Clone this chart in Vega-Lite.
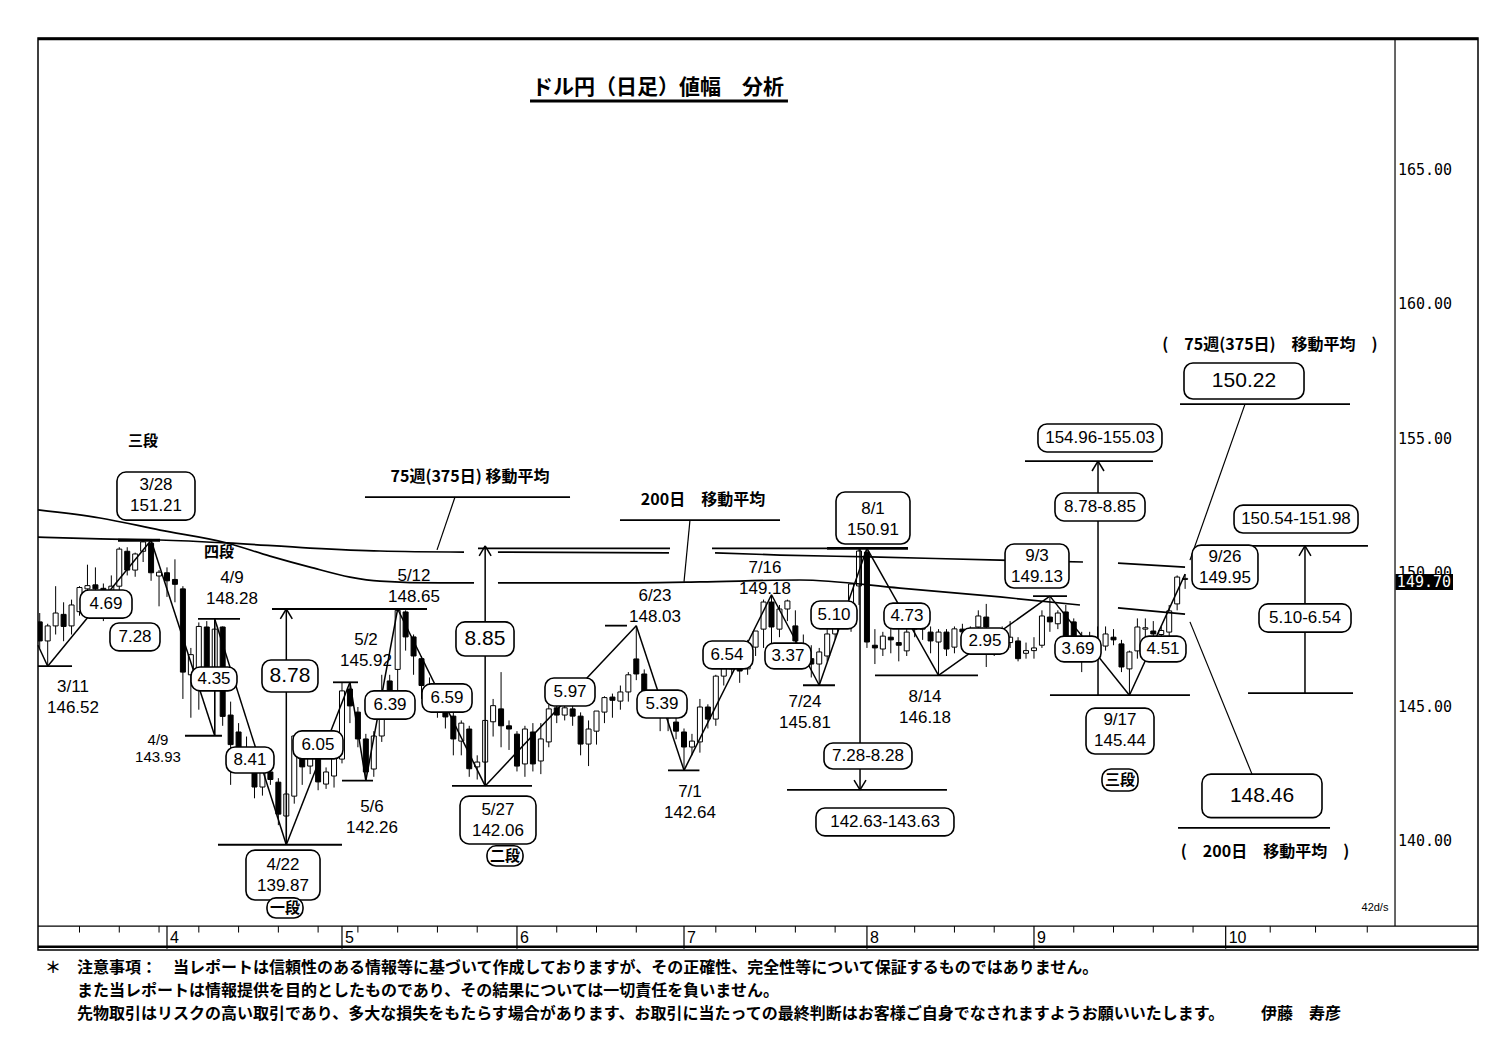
{
 "$schema": "https://vega.github.io/schema/vega-lite/v6.json",
 "width": 1440,
 "height": 912,
 "autosize": {"type": "none"},
 "padding": {"left": 38, "top": 38, "right": 22, "bottom": 110},
 "background": "white",
 "config": {"view": {"stroke": "black", "strokeWidth": 1.5}},
 "datasets": {
  "candles": [
   {"date":"2025-03-10","i":-16,"o":148.17,"h":148.5,"l":147.2,"c":147.46},
   {"date":"2025-03-11","i":-15,"o":147.46,"h":148.1,"l":146.52,"c":148.02},
   {"date":"2025-03-12","i":-14,"o":148.02,"h":149.5,"l":147.7,"c":148.5},
   {"date":"2025-03-13","i":-13,"o":148.45,"h":148.9,"l":147.45,"c":148.0},
   {"date":"2025-03-14","i":-12,"o":148.02,"h":149.0,"l":147.7,"c":148.8},
   {"date":"2025-03-17","i":-11,"o":148.55,"h":149.5,"l":148.4,"c":149.45},
   {"date":"2025-03-18","i":-10,"o":149.4,"h":150.3,"l":149.0,"c":149.52},
   {"date":"2025-03-19","i":-9,"o":149.55,"h":150.2,"l":148.6,"c":149.4},
   {"date":"2025-03-20","i":-8,"o":149.42,"h":149.6,"l":148.2,"c":149.35},
   {"date":"2025-03-21","i":-7,"o":149.35,"h":149.9,"l":148.6,"c":149.5},
   {"date":"2025-03-24","i":-6,"o":149.5,"h":150.95,"l":149.3,"c":150.88},
   {"date":"2025-03-25","i":-5,"o":150.8,"h":150.95,"l":149.9,"c":150.1},
   {"date":"2025-03-26","i":-4,"o":150.1,"h":150.75,"l":149.85,"c":150.7},
   {"date":"2025-03-27","i":-3,"o":150.8,"h":151.2,"l":150.4,"c":151.15},
   {"date":"2025-03-28","i":-2,"o":151.1,"h":151.21,"l":149.7,"c":150.0},
   {"date":"2025-03-31","i":-1,"o":149.88,"h":150.1,"l":148.75,"c":150.02},
   {"date":"2025-04-01","i":0,"o":150.0,"h":150.2,"l":149.1,"c":149.7},
   {"date":"2025-04-02","i":1,"o":149.75,"h":150.5,"l":148.9,"c":149.57},
   {"date":"2025-04-03","i":2,"o":149.4,"h":149.5,"l":145.3,"c":146.3},
   {"date":"2025-04-04","i":3,"o":146.2,"h":147.2,"l":144.6,"c":146.95},
   {"date":"2025-04-07","i":4,"o":145.7,"h":148.15,"l":144.9,"c":148.0},
   {"date":"2025-04-08","i":5,"o":147.98,"h":148.2,"l":146.0,"c":146.5},
   {"date":"2025-04-09","i":6,"o":146.45,"h":148.28,"l":143.93,"c":147.9},
   {"date":"2025-04-10","i":7,"o":147.98,"h":148.0,"l":144.3,"c":144.65},
   {"date":"2025-04-11","i":8,"o":144.7,"h":145.2,"l":142.1,"c":143.6},
   {"date":"2025-04-14","i":9,"o":144.07,"h":144.4,"l":142.9,"c":143.25},
   {"date":"2025-04-15","i":10,"o":143.1,"h":143.9,"l":142.8,"c":143.3},
   {"date":"2025-04-16","i":11,"o":142.75,"h":143.4,"l":141.6,"c":142.02},
   {"date":"2025-04-17","i":12,"o":142.02,"h":142.9,"l":141.7,"c":142.58},
   {"date":"2025-04-18","i":13,"o":142.58,"h":142.7,"l":142.1,"c":142.3},
   {"date":"2025-04-21","i":14,"o":142.2,"h":142.35,"l":140.6,"c":141.01},
   {"date":"2025-04-22","i":15,"o":140.94,"h":141.9,"l":139.87,"c":141.76},
   {"date":"2025-04-23","i":16,"o":141.68,"h":143.95,"l":141.4,"c":143.92},
   {"date":"2025-04-24","i":17,"o":143.32,"h":143.9,"l":142.1,"c":142.77},
   {"date":"2025-04-25","i":18,"o":142.8,"h":143.7,"l":142.5,"c":143.2},
   {"date":"2025-04-28","i":19,"o":143.25,"h":143.6,"l":141.9,"c":142.21},
   {"date":"2025-04-29","i":20,"o":142.13,"h":142.75,"l":141.95,"c":142.58},
   {"date":"2025-04-30","i":21,"o":142.43,"h":143.4,"l":142.0,"c":143.55},
   {"date":"2025-05-01","i":22,"o":143.06,"h":145.9,"l":142.9,"c":145.6},
   {"date":"2025-05-02","i":23,"o":145.67,"h":145.92,"l":144.4,"c":145.04},
   {"date":"2025-05-05","i":24,"o":144.81,"h":145.0,"l":143.5,"c":143.81},
   {"date":"2025-05-06","i":25,"o":143.81,"h":144.0,"l":142.26,"c":142.58},
   {"date":"2025-05-07","i":26,"o":142.69,"h":144.1,"l":142.4,"c":143.92},
   {"date":"2025-05-08","i":27,"o":143.92,"h":146.2,"l":143.7,"c":145.56},
   {"date":"2025-05-09","i":28,"o":145.97,"h":146.2,"l":145.3,"c":145.6},
   {"date":"2025-05-12","i":29,"o":146.4,"h":148.65,"l":145.5,"c":148.6},
   {"date":"2025-05-13","i":30,"o":148.54,"h":148.6,"l":147.1,"c":147.61},
   {"date":"2025-05-14","i":31,"o":147.61,"h":147.7,"l":146.2,"c":146.9},
   {"date":"2025-05-15","i":32,"o":146.8,"h":146.9,"l":145.3,"c":145.8},
   {"date":"2025-05-16","i":33,"o":145.75,"h":146.1,"l":145.2,"c":145.55},
   {"date":"2025-05-19","i":34,"o":145.11,"h":145.5,"l":144.6,"c":144.85},
   {"date":"2025-05-20","i":35,"o":144.93,"h":145.0,"l":144.2,"c":144.63},
   {"date":"2025-05-21","i":36,"o":144.66,"h":144.8,"l":143.2,"c":143.81},
   {"date":"2025-05-22","i":37,"o":143.73,"h":144.5,"l":143.2,"c":144.4},
   {"date":"2025-05-23","i":38,"o":144.18,"h":144.3,"l":142.4,"c":142.7},
   {"date":"2025-05-26","i":39,"o":142.77,"h":143.2,"l":142.3,"c":142.95},
   {"date":"2025-05-27","i":40,"o":142.95,"h":144.5,"l":142.06,"c":144.5},
   {"date":"2025-05-28","i":41,"o":144.45,"h":145.3,"l":143.9,"c":145.05},
   {"date":"2025-05-29","i":42,"o":144.93,"h":146.3,"l":143.5,"c":144.3},
   {"date":"2025-05-30","i":43,"o":144.3,"h":144.5,"l":143.4,"c":144.18},
   {"date":"2025-06-02","i":44,"o":143.99,"h":144.1,"l":142.6,"c":142.8},
   {"date":"2025-06-03","i":45,"o":142.88,"h":144.3,"l":142.4,"c":144.18},
   {"date":"2025-06-04","i":46,"o":144.07,"h":144.4,"l":142.6,"c":142.88},
   {"date":"2025-06-05","i":47,"o":142.99,"h":144.4,"l":142.5,"c":143.81},
   {"date":"2025-06-06","i":48,"o":143.7,"h":145.1,"l":143.5,"c":144.93},
   {"date":"2025-06-09","i":49,"o":144.97,"h":145.2,"l":144.4,"c":144.7},
   {"date":"2025-06-10","i":50,"o":144.7,"h":145.3,"l":144.5,"c":144.97},
   {"date":"2025-06-11","i":51,"o":144.93,"h":145.45,"l":144.3,"c":144.66},
   {"date":"2025-06-12","i":52,"o":144.66,"h":144.8,"l":143.2,"c":143.62},
   {"date":"2025-06-13","i":53,"o":143.62,"h":144.5,"l":142.8,"c":144.18},
   {"date":"2025-06-16","i":54,"o":144.1,"h":144.8,"l":143.6,"c":144.85},
   {"date":"2025-06-17","i":55,"o":144.81,"h":145.4,"l":144.4,"c":145.35},
   {"date":"2025-06-18","i":56,"o":145.37,"h":145.5,"l":144.6,"c":145.25},
   {"date":"2025-06-19","i":57,"o":145.22,"h":145.8,"l":144.9,"c":145.56},
   {"date":"2025-06-20","i":58,"o":145.56,"h":146.3,"l":145.2,"c":146.2},
   {"date":"2025-06-23","i":59,"o":146.79,"h":148.03,"l":146.0,"c":146.23},
   {"date":"2025-06-24","i":60,"o":146.23,"h":146.4,"l":144.9,"c":145.41},
   {"date":"2025-06-25","i":61,"o":145.2,"h":145.6,"l":144.6,"c":145.3},
   {"date":"2025-06-26","i":62,"o":144.93,"h":145.3,"l":144.1,"c":144.66},
   {"date":"2025-06-27","i":63,"o":144.6,"h":144.9,"l":144.1,"c":144.7},
   {"date":"2025-06-30","i":64,"o":144.44,"h":144.8,"l":143.8,"c":144.1},
   {"date":"2025-07-01","i":65,"o":144.07,"h":144.2,"l":142.64,"c":143.51},
   {"date":"2025-07-02","i":66,"o":143.51,"h":144.0,"l":143.2,"c":143.73},
   {"date":"2025-07-03","i":67,"o":143.7,"h":145.3,"l":143.3,"c":145.0},
   {"date":"2025-07-04","i":68,"o":145.0,"h":145.1,"l":144.2,"c":144.55},
   {"date":"2025-07-07","i":69,"o":144.55,"h":146.2,"l":144.3,"c":146.15},
   {"date":"2025-07-08","i":70,"o":146.15,"h":146.9,"l":145.8,"c":146.53},
   {"date":"2025-07-09","i":71,"o":146.6,"h":147.2,"l":146.2,"c":146.42},
   {"date":"2025-07-10","i":72,"o":146.42,"h":146.9,"l":145.9,"c":146.34},
   {"date":"2025-07-11","i":73,"o":146.42,"h":147.5,"l":146.2,"c":147.16},
   {"date":"2025-07-14","i":74,"o":147.23,"h":147.8,"l":146.9,"c":147.83},
   {"date":"2025-07-15","i":75,"o":147.9,"h":149.0,"l":147.2,"c":148.91},
   {"date":"2025-07-16","i":76,"o":148.91,"h":149.18,"l":146.9,"c":147.98},
   {"date":"2025-07-17","i":77,"o":147.9,"h":148.8,"l":147.6,"c":148.65},
   {"date":"2025-07-18","i":78,"o":148.65,"h":149.0,"l":148.2,"c":148.95},
   {"date":"2025-07-21","i":79,"o":148.02,"h":148.6,"l":147.0,"c":147.46},
   {"date":"2025-07-22","i":80,"o":146.68,"h":147.7,"l":146.5,"c":147.16},
   {"date":"2025-07-23","i":81,"o":146.8,"h":147.3,"l":146.1,"c":146.6},
   {"date":"2025-07-24","i":82,"o":146.6,"h":147.2,"l":145.81,"c":147.05},
   {"date":"2025-07-25","i":83,"o":146.9,"h":147.9,"l":146.7,"c":147.72},
   {"date":"2025-07-28","i":84,"o":147.72,"h":148.6,"l":147.5,"c":148.0},
   {"date":"2025-07-29","i":85,"o":148.0,"h":148.8,"l":147.9,"c":148.3},
   {"date":"2025-07-30","i":86,"o":148.0,"h":149.6,"l":147.8,"c":149.58},
   {"date":"2025-07-31","i":87,"o":149.51,"h":150.9,"l":148.8,"c":150.81},
   {"date":"2025-08-01","i":88,"o":150.77,"h":150.91,"l":147.2,"c":147.42},
   {"date":"2025-08-04","i":89,"o":147.3,"h":147.9,"l":146.6,"c":147.2},
   {"date":"2025-08-05","i":90,"o":147.16,"h":147.8,"l":146.9,"c":147.64},
   {"date":"2025-08-06","i":91,"o":147.6,"h":148.0,"l":147.0,"c":147.5},
   {"date":"2025-08-07","i":92,"o":147.4,"h":147.9,"l":146.7,"c":147.3},
   {"date":"2025-08-08","i":93,"o":147.09,"h":148.0,"l":146.9,"c":147.79},
   {"date":"2025-08-11","i":94,"o":148.0,"h":148.4,"l":147.6,"c":147.9},
   {"date":"2025-08-12","i":95,"o":148.0,"h":148.5,"l":147.5,"c":147.9},
   {"date":"2025-08-13","i":96,"o":147.79,"h":148.0,"l":147.0,"c":147.46},
   {"date":"2025-08-14","i":97,"o":147.42,"h":147.9,"l":146.18,"c":147.79},
   {"date":"2025-08-15","i":98,"o":147.79,"h":147.9,"l":146.9,"c":147.16},
   {"date":"2025-08-18","i":99,"o":147.23,"h":148.0,"l":147.0,"c":147.91},
   {"date":"2025-08-19","i":100,"o":147.9,"h":148.1,"l":147.4,"c":147.8},
   {"date":"2025-08-20","i":101,"o":147.8,"h":148.0,"l":147.0,"c":147.5},
   {"date":"2025-08-21","i":102,"o":147.98,"h":148.6,"l":147.7,"c":148.39},
   {"date":"2025-08-22","i":103,"o":148.35,"h":148.84,"l":146.49,"c":147.98},
   {"date":"2025-08-25","i":104,"o":147.4,"h":147.9,"l":146.9,"c":147.7},
   {"date":"2025-08-26","i":105,"o":147.7,"h":148.0,"l":147.0,"c":147.4},
   {"date":"2025-08-27","i":106,"o":147.4,"h":148.2,"l":147.2,"c":147.6},
   {"date":"2025-08-28","i":107,"o":147.46,"h":147.6,"l":146.7,"c":146.8},
   {"date":"2025-08-29","i":108,"o":147.0,"h":147.4,"l":146.8,"c":147.1},
   {"date":"2025-09-01","i":109,"o":147.1,"h":147.6,"l":146.8,"c":147.2},
   {"date":"2025-09-02","i":110,"o":147.3,"h":148.6,"l":147.2,"c":148.39},
   {"date":"2025-09-03","i":111,"o":148.35,"h":149.13,"l":147.8,"c":148.17},
   {"date":"2025-09-04","i":112,"o":148.1,"h":148.6,"l":147.9,"c":148.5},
   {"date":"2025-09-05","i":113,"o":148.54,"h":148.8,"l":147.0,"c":147.61},
   {"date":"2025-09-08","i":114,"o":148.17,"h":148.3,"l":147.2,"c":147.61},
   {"date":"2025-09-09","i":115,"o":147.5,"h":147.8,"l":146.3,"c":147.2},
   {"date":"2025-09-10","i":116,"o":147.2,"h":147.8,"l":147.0,"c":147.4},
   {"date":"2025-09-11","i":117,"o":147.42,"h":148.0,"l":147.0,"c":147.3},
   {"date":"2025-09-12","i":118,"o":147.27,"h":148.0,"l":147.1,"c":147.72},
   {"date":"2025-09-15","i":119,"o":147.6,"h":147.9,"l":147.3,"c":147.5},
   {"date":"2025-09-16","i":120,"o":147.35,"h":147.5,"l":146.3,"c":146.49},
   {"date":"2025-09-17","i":121,"o":146.42,"h":147.1,"l":145.44,"c":147.05},
   {"date":"2025-09-18","i":122,"o":147.09,"h":148.3,"l":146.8,"c":147.98},
   {"date":"2025-09-19","i":123,"o":147.9,"h":148.3,"l":147.5,"c":147.95},
   {"date":"2025-09-22","i":124,"o":147.83,"h":148.2,"l":147.5,"c":147.72},
   {"date":"2025-09-23","i":125,"o":147.7,"h":148.0,"l":147.4,"c":147.85},
   {"date":"2025-09-24","i":126,"o":147.79,"h":148.8,"l":147.6,"c":148.58},
   {"date":"2025-09-25","i":127,"o":148.84,"h":149.9,"l":148.6,"c":149.84},
   {"date":"2025-09-26","i":128,"o":149.75,"h":149.95,"l":149.4,"c":149.79}
  ],
  "ma": [
   {"s":"w1","x":-16.22,"y":151.33},{"s":"w1","x":-8.42,"y":151.26},{"s":"w1","x":-0.88,"y":151.22},{"s":"w1","x":7.54,"y":151.11},{"s":"w1","x":17.98,"y":150.92},{"s":"w1","x":26.78,"y":150.81},{"s":"w1","x":37.34,"y":150.77},
   {"s":"w2","x":41.61,"y":150.77},{"s":"w2","x":63.11,"y":150.74},
   {"s":"w3","x":68.9,"y":150.74},{"s":"w3","x":77.07,"y":150.66},{"s":"w3","x":88.38,"y":150.59},{"s":"w3","x":104.73,"y":150.47},{"s":"w3","x":115.16,"y":150.4},
   {"s":"w4","x":119.56,"y":150.36},{"s":"w4","x":127.99,"y":150.21},
   {"s":"m1","x":-16.22,"y":152.34},{"s":"m1","x":-8.42,"y":152.04},{"s":"m1","x":-0.88,"y":151.59},{"s":"m1","x":7.54,"y":151.11},{"s":"m1","x":12.95,"y":150.62},{"s":"m1","x":17.98,"y":150.21},{"s":"m1","x":23.01,"y":149.84},{"s":"m1","x":26.78,"y":149.69},{"s":"m1","x":34.32,"y":149.62},{"s":"m1","x":38.6,"y":149.62},
   {"s":"m2","x":41.61,"y":149.62},{"s":"m2","x":54.44,"y":149.62},{"s":"m2","x":67.01,"y":149.66},{"s":"m2","x":79.58,"y":149.73},{"s":"m2","x":92.15,"y":149.43},{"s":"m2","x":104.73,"y":149.1},{"s":"m2","x":114.78,"y":148.8},
   {"s":"m3","x":119.56,"y":148.69},{"s":"m3","x":127.99,"y":148.46}
  ],
  "segs": [
   {"k":"marker","x":-16.22,"y":146.52,"x2":-11.94,"y2":146.52},
   {"k":"marker","x":3.9,"y":148.28,"x2":9.18,"y2":148.28},
   {"k":"marker","x":2.26,"y":143.93,"x2":6.91,"y2":143.93},
   {"k":"marker","x":6.41,"y":139.87,"x2":22.0,"y2":139.87},
   {"k":"marker","x":13.2,"y":148.65,"x2":32.69,"y2":148.65},
   {"k":"marker","x":20.87,"y":145.92,"x2":24.01,"y2":145.92},
   {"k":"marker","x":22.0,"y":142.26,"x2":25.9,"y2":142.26},
   {"k":"marker","x":35.83,"y":142.06,"x2":45.89,"y2":142.06},
   {"k":"marker","x":55.07,"y":148.03,"x2":57.83,"y2":148.03},
   {"k":"marker","x":62.99,"y":142.64,"x2":66.94,"y2":142.64},
   {"k":"marker","x":79.96,"y":145.81,"x2":83.98,"y2":145.81},
   {"k":"marker","x":39.1,"y":150.91,"x2":63.24,"y2":150.91},
   {"k":"marker","x":68.52,"y":150.91,"x2":82.98,"y2":150.91},
   {"k":"marker","x":89.01,"y":146.18,"x2":101.96,"y2":146.18},
   {"k":"marker","x":108.88,"y":149.13,"x2":113.15,"y2":149.13},
   {"k":"marker","x":77.95,"y":141.91,"x2":98.06,"y2":141.91},
   {"k":"marker","x":107.87,"y":154.16,"x2":123.96,"y2":154.16},
   {"k":"marker","x":111.01,"y":145.44,"x2":128.61,"y2":145.44},
   {"k":"marker","x":134.9,"y":151.0,"x2":150.99,"y2":151.0},
   {"k":"marker","x":135.91,"y":145.52,"x2":149.11,"y2":145.52},
   {"k":"marker","x":127.36,"y":156.28,"x2":148.73,"y2":156.28},
   {"k":"marker","x":127.11,"y":140.5,"x2":146.22,"y2":140.5},
   {"k":"marker","x":24.89,"y":152.82,"x2":50.67,"y2":152.82},
   {"k":"marker","x":56.95,"y":151.96,"x2":77.07,"y2":151.96},
   {"k":"thick","x":-6.16,"y":151.21,"x2":-0.88,"y2":151.21},
   {"k":"thick","x":82.98,"y":150.91,"x2":93.16,"y2":150.91},
   {"k":"thick","x":45.64,"y":167.57,"x2":78.07,"y2":167.57},
   {"k":"leg","x":-16.22,"y":147.3,"x2":-15,"y2":146.52},
   {"k":"leg","x":-15,"y":146.52,"x2":-2,"y2":151.21},
   {"k":"leg","x":-2,"y":151.21,"x2":6,"y2":143.93},
   {"k":"leg","x":6,"y":143.93,"x2":6,"y2":148.28},
   {"k":"leg","x":6,"y":148.28,"x2":15,"y2":139.87},
   {"k":"leg","x":15,"y":139.87,"x2":23,"y2":145.92},
   {"k":"leg","x":23,"y":145.92,"x2":25,"y2":142.26},
   {"k":"leg","x":25,"y":142.26,"x2":29,"y2":148.65},
   {"k":"leg","x":29,"y":148.65,"x2":40,"y2":142.06},
   {"k":"leg","x":40,"y":142.06,"x2":59,"y2":148.03},
   {"k":"leg","x":59,"y":148.03,"x2":65,"y2":142.64},
   {"k":"leg","x":65,"y":142.64,"x2":76,"y2":149.18},
   {"k":"leg","x":76,"y":149.18,"x2":82,"y2":145.81},
   {"k":"leg","x":82,"y":145.81,"x2":88,"y2":150.91},
   {"k":"leg","x":88,"y":150.91,"x2":97,"y2":146.18},
   {"k":"leg","x":97,"y":146.18,"x2":111,"y2":149.13},
   {"k":"leg","x":111,"y":149.13,"x2":121,"y2":145.44},
   {"k":"leg","x":121,"y":145.44,"x2":128,"y2":149.95},
   {"k":"arrow","x":15,"y":139.87,"x2":15,"y2":148.65},
   {"k":"arrow","x":14.25,"y":148.28,"x2":15,"y2":148.65},
   {"k":"arrow","x":15.75,"y":148.28,"x2":15,"y2":148.65},
   {"k":"arrow","x":40,"y":142.06,"x2":40,"y2":151.0},
   {"k":"arrow","x":39.25,"y":150.63,"x2":40,"y2":151.0},
   {"k":"arrow","x":40.75,"y":150.63,"x2":40,"y2":151.0},
   {"k":"arrow","x":87.13,"y":150.91,"x2":87.13,"y2":141.91},
   {"k":"arrow","x":86.38,"y":142.28,"x2":87.13,"y2":141.91},
   {"k":"arrow","x":87.88,"y":142.28,"x2":87.13,"y2":141.91},
   {"k":"arrow","x":117.05,"y":145.44,"x2":117.05,"y2":154.16},
   {"k":"arrow","x":116.3,"y":153.79,"x2":117.05,"y2":154.16},
   {"k":"arrow","x":117.8,"y":153.79,"x2":117.05,"y2":154.16},
   {"k":"arrow","x":143.07,"y":145.52,"x2":143.07,"y2":151.0},
   {"k":"arrow","x":142.32,"y":150.63,"x2":143.07,"y2":151.0},
   {"k":"arrow","x":143.82,"y":150.63,"x2":143.07,"y2":151.0},
   {"k":"pointer","x":36.21,"y":152.82,"x2":33.95,"y2":150.85},
   {"k":"pointer","x":65.75,"y":151.96,"x2":65.0,"y2":149.66},
   {"k":"pointer","x":135.53,"y":156.28,"x2":128.61,"y2":150.47},
   {"k":"pointer","x":128.61,"y":148.17,"x2":136.41,"y2":142.5},
   {"k":"strip","x":-16.22,"y":136.84,"x2":164.82,"y2":136.84},
   {"k":"strip","x":154.39,"y":136.84,"x2":154.39,"y2":169.92},
   {"k":"strip","x":0,"y":136.84,"x2":0,"y2":136.0},
   {"k":"strip","x":22,"y":136.84,"x2":22,"y2":136.0},
   {"k":"strip","x":44,"y":136.84,"x2":44,"y2":136.0},
   {"k":"strip","x":65,"y":136.84,"x2":65,"y2":136.0},
   {"k":"strip","x":88,"y":136.84,"x2":88,"y2":136.0},
   {"k":"strip","x":109,"y":136.84,"x2":109,"y2":136.0},
   {"k":"strip","x":133.1,"y":136.84,"x2":133.1,"y2":136.0},
   {"k":"bold","x":-16.22,"y":136.07,"x2":164.82,"y2":136.07},
   {"k":"bold","x":-16.22,"y":169.88,"x2":164.82,"y2":169.88},
   {"k":"tick","x":-11,"y":136.84,"x2":-11,"y2":136.6},
   {"k":"tick","x":-6,"y":136.84,"x2":-6,"y2":136.6},
   {"k":"tick","x":-1,"y":136.84,"x2":-1,"y2":136.6},
   {"k":"tick","x":4,"y":136.84,"x2":4,"y2":136.6},
   {"k":"tick","x":9,"y":136.84,"x2":9,"y2":136.6},
   {"k":"tick","x":14,"y":136.84,"x2":14,"y2":136.6},
   {"k":"tick","x":19,"y":136.84,"x2":19,"y2":136.6},
   {"k":"tick","x":24,"y":136.84,"x2":24,"y2":136.6},
   {"k":"tick","x":29,"y":136.84,"x2":29,"y2":136.6},
   {"k":"tick","x":34,"y":136.84,"x2":34,"y2":136.6},
   {"k":"tick","x":39,"y":136.84,"x2":39,"y2":136.6},
   {"k":"tick","x":49,"y":136.84,"x2":49,"y2":136.6},
   {"k":"tick","x":54,"y":136.84,"x2":54,"y2":136.6},
   {"k":"tick","x":59,"y":136.84,"x2":59,"y2":136.6},
   {"k":"tick","x":69,"y":136.84,"x2":69,"y2":136.6},
   {"k":"tick","x":74,"y":136.84,"x2":74,"y2":136.6},
   {"k":"tick","x":79,"y":136.84,"x2":79,"y2":136.6},
   {"k":"tick","x":84,"y":136.84,"x2":84,"y2":136.6},
   {"k":"tick","x":94,"y":136.84,"x2":94,"y2":136.6},
   {"k":"tick","x":99,"y":136.84,"x2":99,"y2":136.6},
   {"k":"tick","x":104,"y":136.84,"x2":104,"y2":136.6},
   {"k":"tick","x":114,"y":136.84,"x2":114,"y2":136.6},
   {"k":"tick","x":119,"y":136.84,"x2":119,"y2":136.6},
   {"k":"tick","x":124,"y":136.84,"x2":124,"y2":136.6},
   {"k":"tick","x":129,"y":136.84,"x2":129,"y2":136.6},
   {"k":"tick","x":138.7,"y":136.84,"x2":138.7,"y2":136.6},
   {"k":"tick","x":144.4,"y":136.84,"x2":144.4,"y2":136.6},
   {"k":"tick","x":150.9,"y":136.84,"x2":150.9,"y2":136.6}
  ],
  "boxes": [
   {"x":-6.29,"x2":3.52,"y":153.75,"y2":151.96},
   {"x":-10.94,"x2":-4.4,"y":149.36,"y2":148.31},
   {"x":-7.17,"x2":-0.88,"y":148.13,"y2":147.09},
   {"x":3.02,"x2":8.8,"y":146.49,"y2":145.6},
   {"x":7.42,"x2":13.45,"y":143.51,"y2":142.54},
   {"x":11.94,"x2":18.98,"y":146.75,"y2":145.56},
   {"x":15.84,"x2":22.13,"y":144.11,"y2":143.07},
   {"x":9.93,"x2":19.24,"y":139.67,"y2":137.81},
   {"x":12.57,"x2":17.1,"y":137.89,"y2":137.14},
   {"x":24.89,"x2":31.18,"y":145.6,"y2":144.55},
   {"x":32.06,"x2":38.35,"y":145.86,"y2":144.81},
   {"x":36.33,"x2":43.63,"y":148.17,"y2":146.9},
   {"x":36.84,"x2":46.39,"y":141.68,"y2":139.9},
   {"x":40.23,"x2":44.76,"y":139.83,"y2":139.08},
   {"x":47.52,"x2":53.81,"y":146.08,"y2":145.04},
   {"x":59.09,"x2":65.38,"y":145.63,"y2":144.59},
   {"x":67.39,"x2":73.67,"y":147.46,"y2":146.42},
   {"x":75.18,"x2":80.97,"y":147.38,"y2":146.42},
   {"x":80.97,"x2":86.75,"y":148.95,"y2":147.91},
   {"x":84.11,"x2":93.41,"y":153.01,"y2":151.07},
   {"x":90.14,"x2":95.93,"y":148.87,"y2":147.91},
   {"x":82.6,"x2":93.66,"y":143.66,"y2":142.69},
   {"x":81.59,"x2":98.94,"y":141.24,"y2":140.2},
   {"x":99.82,"x2":105.86,"y":147.94,"y2":146.97},
   {"x":105.36,"x2":113.4,"y":151.07,"y2":149.43},
   {"x":111.64,"x2":117.43,"y":147.64,"y2":146.68},
   {"x":115.54,"x2":124.09,"y":144.96,"y2":143.25},
   {"x":117.55,"x2":122.08,"y":142.69,"y2":141.87},
   {"x":122.33,"x2":128.11,"y":147.64,"y2":146.68},
   {"x":128.87,"x2":137.16,"y":151.03,"y2":149.39},
   {"x":109.5,"x2":125.09,"y":155.54,"y2":154.5},
   {"x":111.64,"x2":122.96,"y":152.97,"y2":151.93},
   {"x":127.86,"x2":142.95,"y":157.81,"y2":156.47},
   {"x":134.15,"x2":149.74,"y":152.52,"y2":151.48},
   {"x":137.29,"x2":148.86,"y":148.84,"y2":147.79},
   {"x":130.12,"x2":145.21,"y":142.5,"y2":140.88}
  ],
  "labels": [
   {"t":"3/28\n151.21","x":-1.38,"y":152.86,"k":"n2"},
   {"t":"4/9\n148.28","x":8.17,"y":149.43,"k":"n2"},
   {"t":"3/11\n146.52","x":-11.82,"y":145.37,"k":"n2"},
   {"t":"4/22\n139.87","x":14.58,"y":138.74,"k":"n2"},
   {"t":"5/2\n145.92","x":25.02,"y":147.12,"k":"n2"},
   {"t":"5/12\n148.65","x":31.05,"y":149.47,"k":"n2"},
   {"t":"5/6\n142.26","x":25.77,"y":140.87,"k":"n2"},
   {"t":"5/27\n142.06","x":41.61,"y":140.79,"k":"n2"},
   {"t":"6/23\n148.03","x":61.35,"y":148.76,"k":"n2"},
   {"t":"7/1\n142.64","x":65.75,"y":141.46,"k":"n2"},
   {"t":"7/16\n149.18","x":75.18,"y":149.8,"k":"n2"},
   {"t":"7/24\n145.81","x":80.21,"y":144.81,"k":"n2"},
   {"t":"8/1\n150.91","x":88.76,"y":152.0,"k":"n2"},
   {"t":"8/14\n146.18","x":95.3,"y":145.0,"k":"n2"},
   {"t":"9/3\n149.13","x":109.38,"y":150.25,"k":"n2"},
   {"t":"9/17\n145.44","x":119.81,"y":144.11,"k":"n2"},
   {"t":"9/26\n149.95","x":133.01,"y":150.21,"k":"n2"},
   {"t":"4.69","x":-7.67,"y":148.84,"k":"n"},
   {"t":"7.28","x":-4.02,"y":147.61,"k":"n"},
   {"t":"4.35","x":5.91,"y":146.04,"k":"n"},
   {"t":"8.41","x":10.43,"y":143.03,"k":"n"},
   {"t":"6.05","x":18.98,"y":143.59,"k":"n"},
   {"t":"6.39","x":28.04,"y":145.07,"k":"n"},
   {"t":"6.59","x":35.2,"y":145.34,"k":"n"},
   {"t":"5.97","x":50.67,"y":145.56,"k":"n"},
   {"t":"5.39","x":62.23,"y":145.11,"k":"n"},
   {"t":"6.54","x":70.4,"y":146.94,"k":"n"},
   {"t":"3.37","x":78.07,"y":146.9,"k":"n"},
   {"t":"5.10","x":83.86,"y":148.43,"k":"n"},
   {"t":"4.73","x":93.03,"y":148.39,"k":"n"},
   {"t":"7.28-8.28","x":88.13,"y":143.18,"k":"n"},
   {"t":"142.63-143.63","x":90.27,"y":140.72,"k":"n"},
   {"t":"2.95","x":102.84,"y":147.46,"k":"n"},
   {"t":"3.69","x":114.53,"y":147.16,"k":"n"},
   {"t":"4.51","x":125.22,"y":147.16,"k":"n"},
   {"t":"154.96-155.03","x":117.3,"y":155.02,"k":"n"},
   {"t":"8.78-8.85","x":117.3,"y":152.45,"k":"n"},
   {"t":"150.54-151.98","x":141.94,"y":152.0,"k":"n"},
   {"t":"5.10-6.54","x":143.07,"y":148.31,"k":"n"},
   {"t":"8.78","x":15.46,"y":146.15,"k":"b"},
   {"t":"8.85","x":39.98,"y":147.53,"k":"b"},
   {"t":"150.22","x":135.4,"y":157.14,"k":"b"},
   {"t":"148.46","x":137.67,"y":141.68,"k":"b"},
   {"t":"4/9\n143.93","x":-1.13,"y":143.44,"k":"s"},
   {"t":"42d/s","x":151.87,"y":137.51,"k":"xs"},
   {"t":"4","x":0.38,"y":136.4,"k":"m"},
   {"t":"5","x":22.38,"y":136.4,"k":"m"},
   {"t":"6","x":44.38,"y":136.4,"k":"m"},
   {"t":"7","x":65.38,"y":136.4,"k":"m"},
   {"t":"8","x":88.38,"y":136.4,"k":"m"},
   {"t":"9","x":109.38,"y":136.4,"k":"m"},
   {"t":"10","x":133.48,"y":136.4,"k":"m"}
  ],
  "jp": [
   {"t":"三段","x":-3.02,"y":154.91,"k":"s"},
   {"t":"四段","x":6.54,"y":150.77,"k":"s"},
   {"t":"一段","x":14.84,"y":137.51,"k":"s"},
   {"t":"二段","x":42.49,"y":139.45,"k":"s"},
   {"t":"三段","x":119.81,"y":142.28,"k":"s"},
   {"t":"75週(375日) 移動平均","x":38.09,"y":153.57,"k":"n"},
   {"t":"200日　移動平均","x":67.39,"y":152.71,"k":"n"},
   {"t":"(　75週(375日)　移動平均　)","x":138.67,"y":158.48,"k":"n"},
   {"t":"(　200日　移動平均　)","x":138.04,"y":139.6,"k":"n"},
   {"t":"ドル円（日足）値幅　分析","x":61.73,"y":168.05,"k":"title"}
  ],
  "notes": [
   {"t":"＊","x":-15.34,"y":135.28},
   {"t":"注意事項：　当レポートは信頼性のある情報等に基づいて作成しておりますが、その正確性、完全性等について保証するものではありません。","x":-11.32,"y":135.28},
   {"t":"また当レポートは情報提供を目的としたものであり、その結果については一切責任を負いません。","x":-11.32,"y":134.42},
   {"t":"先物取引はリスクの高い取引であり、多大な損失をもたらす場合があります、お取引に当たっての最終判断はお客様ご自身でなされますようお願いいたします。","x":-11.32,"y":133.57},
   {"t":"伊藤　寿彦","x":137.54,"y":133.57}
  ],
  "ylabels": [
   {"v":140,"t":"140.00"},{"v":145,"t":"145.00"},{"v":150,"t":"150.00"},{"v":155,"t":"155.00"},{"v":160,"t":"160.00"},{"v":165,"t":"165.00"}
  ],
  "tag": [
   {"t":"149.70","x":154.45,"x2":161.68,"y":149.36,"y2":149.95,"tx":154.62,"ty":149.655}
  ]
 },
 "layer": [
  {
   "data": {"name": "candles"},
   "mark": {"type": "rule", "color": "black", "strokeWidth": 1, "clip": true},
   "encoding": {
    "x": {"field": "i", "type": "quantitative", "scale": {"domain": [-16.218, 164.823], "nice": false, "zero": false, "padding": 0}, "axis": null},
    "y": {"field": "l", "type": "quantitative", "scale": {"domain": [135.95, 169.916], "nice": false, "zero": false, "padding": 0}, "axis": null},
    "y2": {"field": "h"}
   }
  },
  {
   "data": {"name": "candles"},
   "mark": {"type": "bar", "size": 5, "stroke": "black", "strokeWidth": 1, "clip": true},
   "encoding": {
    "x": {"field": "i", "type": "quantitative", "scale": {"domain": [-16.218, 164.823], "nice": false, "zero": false, "padding": 0}, "axis": null},
    "y": {"field": "o", "type": "quantitative", "scale": {"domain": [135.95, 169.916], "nice": false, "zero": false, "padding": 0}, "axis": null},
    "y2": {"field": "c"},
    "fill": {"condition": {"test": "datum.c < datum.o", "value": "black"}, "value": "white"}
   }
  },
  {
   "data": {"name": "ma"},
   "mark": {"type": "line", "color": "black", "strokeWidth": 1.7, "interpolate": "monotone"},
   "encoding": {
    "x": {"field": "x", "type": "quantitative", "scale": {"domain": [-16.218, 164.823], "nice": false, "zero": false, "padding": 0}, "axis": null},
    "y": {"field": "y", "type": "quantitative", "scale": {"domain": [135.95, 169.916], "nice": false, "zero": false, "padding": 0}, "axis": null},
    "detail": {"field": "s", "type": "nominal"}
   }
  },
  {
   "data": {"name": "segs"},
   "transform": [{"filter": "datum.k === 'marker'"}],
   "mark": {"type": "rule", "color": "black", "strokeWidth": 1.8},
   "encoding": {
    "x": {"field": "x", "type": "quantitative", "scale": {"domain": [-16.218, 164.823], "nice": false, "zero": false, "padding": 0}, "axis": null},
    "y": {"field": "y", "type": "quantitative", "scale": {"domain": [135.95, 169.916], "nice": false, "zero": false, "padding": 0}, "axis": null},
    "x2": {"field": "x2"}, "y2": {"field": "y2"}
   }
  },
  {
   "data": {"name": "segs"},
   "transform": [{"filter": "datum.k === 'thick'"}],
   "mark": {"type": "rule", "color": "black", "strokeWidth": 2.8},
   "encoding": {
    "x": {"field": "x", "type": "quantitative", "scale": {"domain": [-16.218, 164.823], "nice": false, "zero": false, "padding": 0}, "axis": null},
    "y": {"field": "y", "type": "quantitative", "scale": {"domain": [135.95, 169.916], "nice": false, "zero": false, "padding": 0}, "axis": null},
    "x2": {"field": "x2"}, "y2": {"field": "y2"}
   }
  },
  {
   "data": {"name": "segs"},
   "transform": [{"filter": "datum.k === 'leg' || datum.k === 'arrow'"}],
   "mark": {"type": "rule", "color": "black", "strokeWidth": 1.5},
   "encoding": {
    "x": {"field": "x", "type": "quantitative", "scale": {"domain": [-16.218, 164.823], "nice": false, "zero": false, "padding": 0}, "axis": null},
    "y": {"field": "y", "type": "quantitative", "scale": {"domain": [135.95, 169.916], "nice": false, "zero": false, "padding": 0}, "axis": null},
    "x2": {"field": "x2"}, "y2": {"field": "y2"}
   }
  },
  {
   "data": {"name": "segs"},
   "transform": [{"filter": "datum.k === 'pointer' || datum.k === 'strip'"}],
   "mark": {"type": "rule", "color": "black", "strokeWidth": 1.2},
   "encoding": {
    "x": {"field": "x", "type": "quantitative", "scale": {"domain": [-16.218, 164.823], "nice": false, "zero": false, "padding": 0}, "axis": null},
    "y": {"field": "y", "type": "quantitative", "scale": {"domain": [135.95, 169.916], "nice": false, "zero": false, "padding": 0}, "axis": null},
    "x2": {"field": "x2"}, "y2": {"field": "y2"}
   }
  },
  {
   "data": {"name": "segs"},
   "transform": [{"filter": "datum.k === 'bold'"}],
   "mark": {"type": "rule", "color": "black", "strokeWidth": 2.4},
   "encoding": {
    "x": {"field": "x", "type": "quantitative", "scale": {"domain": [-16.218, 164.823], "nice": false, "zero": false, "padding": 0}, "axis": null},
    "y": {"field": "y", "type": "quantitative", "scale": {"domain": [135.95, 169.916], "nice": false, "zero": false, "padding": 0}, "axis": null},
    "x2": {"field": "x2"}, "y2": {"field": "y2"}
   }
  },
  {
   "data": {"name": "segs"},
   "transform": [{"filter": "datum.k === 'tick'"}],
   "mark": {"type": "rule", "color": "black", "strokeWidth": 1},
   "encoding": {
    "x": {"field": "x", "type": "quantitative", "scale": {"domain": [-16.218, 164.823], "nice": false, "zero": false, "padding": 0}, "axis": null},
    "y": {"field": "y", "type": "quantitative", "scale": {"domain": [135.95, 169.916], "nice": false, "zero": false, "padding": 0}, "axis": null},
    "x2": {"field": "x2"}, "y2": {"field": "y2"}
   }
  },
  {
   "data": {"name": "ylabels"},
   "mark": {"type": "text", "font": "DejaVu Sans Mono", "fontSize": 15, "align": "left", "baseline": "middle", "color": "black"},
   "encoding": {
    "x": {"datum": 154.76, "type": "quantitative", "scale": {"domain": [-16.218, 164.823], "nice": false, "zero": false, "padding": 0}, "axis": null},
    "y": {"field": "v", "type": "quantitative", "scale": {"domain": [135.95, 169.916], "nice": false, "zero": false, "padding": 0}, "axis": null},
    "text": {"field": "t"}
   }
  },
  {
   "data": {"name": "boxes"},
   "mark": {"type": "rect", "fill": "white", "stroke": "black", "strokeWidth": 1.6, "cornerRadius": 9},
   "encoding": {
    "x": {"field": "x", "type": "quantitative", "scale": {"domain": [-16.218, 164.823], "nice": false, "zero": false, "padding": 0}, "axis": null},
    "y": {"field": "y", "type": "quantitative", "scale": {"domain": [135.95, 169.916], "nice": false, "zero": false, "padding": 0}, "axis": null},
    "x2": {"field": "x2"}, "y2": {"field": "y2"}
   }
  },
  {
   "data": {"name": "labels"},
   "transform": [{"filter": "datum.k === 'n'"}],
   "mark": {"type": "text", "font": "Liberation Sans", "fontSize": 17, "align": "center", "baseline": "middle", "color": "black"},
   "encoding": {
    "x": {"field": "x", "type": "quantitative", "scale": {"domain": [-16.218, 164.823], "nice": false, "zero": false, "padding": 0}, "axis": null},
    "y": {"field": "y", "type": "quantitative", "scale": {"domain": [135.95, 169.916], "nice": false, "zero": false, "padding": 0}, "axis": null},
    "text": {"field": "t"}
   }
  },
  {
   "data": {"name": "labels"},
   "transform": [{"filter": "datum.k === 'n2'"}],
   "mark": {"type": "text", "font": "Liberation Sans", "fontSize": 17, "lineBreak": "\n", "lineHeight": 21, "dy": -10.5, "align": "center", "baseline": "middle", "color": "black"},
   "encoding": {
    "x": {"field": "x", "type": "quantitative", "scale": {"domain": [-16.218, 164.823], "nice": false, "zero": false, "padding": 0}, "axis": null},
    "y": {"field": "y", "type": "quantitative", "scale": {"domain": [135.95, 169.916], "nice": false, "zero": false, "padding": 0}, "axis": null},
    "text": {"field": "t"}
   }
  },
  {
   "data": {"name": "labels"},
   "transform": [{"filter": "datum.k === 'b'"}],
   "mark": {"type": "text", "font": "Liberation Sans", "fontSize": 21, "align": "center", "baseline": "middle", "color": "black"},
   "encoding": {
    "x": {"field": "x", "type": "quantitative", "scale": {"domain": [-16.218, 164.823], "nice": false, "zero": false, "padding": 0}, "axis": null},
    "y": {"field": "y", "type": "quantitative", "scale": {"domain": [135.95, 169.916], "nice": false, "zero": false, "padding": 0}, "axis": null},
    "text": {"field": "t"}
   }
  },
  {
   "data": {"name": "labels"},
   "transform": [{"filter": "datum.k === 's'"}],
   "mark": {"type": "text", "font": "Liberation Sans", "fontSize": 15, "lineBreak": "\n", "lineHeight": 17, "dy": -8.5, "align": "center", "baseline": "middle", "color": "black"},
   "encoding": {
    "x": {"field": "x", "type": "quantitative", "scale": {"domain": [-16.218, 164.823], "nice": false, "zero": false, "padding": 0}, "axis": null},
    "y": {"field": "y", "type": "quantitative", "scale": {"domain": [135.95, 169.916], "nice": false, "zero": false, "padding": 0}, "axis": null},
    "text": {"field": "t"}
   }
  },
  {
   "data": {"name": "labels"},
   "transform": [{"filter": "datum.k === 'xs'"}],
   "mark": {"type": "text", "font": "Liberation Sans", "fontSize": 11, "align": "center", "baseline": "middle", "color": "black"},
   "encoding": {
    "x": {"field": "x", "type": "quantitative", "scale": {"domain": [-16.218, 164.823], "nice": false, "zero": false, "padding": 0}, "axis": null},
    "y": {"field": "y", "type": "quantitative", "scale": {"domain": [135.95, 169.916], "nice": false, "zero": false, "padding": 0}, "axis": null},
    "text": {"field": "t"}
   }
  },
  {
   "data": {"name": "labels"},
   "transform": [{"filter": "datum.k === 'm'"}],
   "mark": {"type": "text", "font": "Liberation Sans", "fontSize": 16, "align": "left", "baseline": "middle", "color": "black"},
   "encoding": {
    "x": {"field": "x", "type": "quantitative", "scale": {"domain": [-16.218, 164.823], "nice": false, "zero": false, "padding": 0}, "axis": null},
    "y": {"field": "y", "type": "quantitative", "scale": {"domain": [135.95, 169.916], "nice": false, "zero": false, "padding": 0}, "axis": null},
    "text": {"field": "t"}
   }
  },
  {
   "data": {"name": "jp"},
   "transform": [{"filter": "datum.k === 's'"}],
   "mark": {"type": "text", "font": "Noto Sans CJK JP", "fontSize": 15, "fontWeight": "bold", "align": "center", "baseline": "middle", "color": "black"},
   "encoding": {
    "x": {"field": "x", "type": "quantitative", "scale": {"domain": [-16.218, 164.823], "nice": false, "zero": false, "padding": 0}, "axis": null},
    "y": {"field": "y", "type": "quantitative", "scale": {"domain": [135.95, 169.916], "nice": false, "zero": false, "padding": 0}, "axis": null},
    "text": {"field": "t"}
   }
  },
  {
   "data": {"name": "jp"},
   "transform": [{"filter": "datum.k === 'n'"}],
   "mark": {"type": "text", "font": "Noto Sans CJK JP", "fontSize": 16, "fontWeight": "bold", "align": "center", "baseline": "middle", "color": "black"},
   "encoding": {
    "x": {"field": "x", "type": "quantitative", "scale": {"domain": [-16.218, 164.823], "nice": false, "zero": false, "padding": 0}, "axis": null},
    "y": {"field": "y", "type": "quantitative", "scale": {"domain": [135.95, 169.916], "nice": false, "zero": false, "padding": 0}, "axis": null},
    "text": {"field": "t"}
   }
  },
  {
   "data": {"name": "jp"},
   "transform": [{"filter": "datum.k === 'title'"}],
   "mark": {"type": "text", "font": "Noto Sans CJK JP", "fontSize": 21, "fontWeight": "bold", "align": "center", "baseline": "middle", "color": "black"},
   "encoding": {
    "x": {"field": "x", "type": "quantitative", "scale": {"domain": [-16.218, 164.823], "nice": false, "zero": false, "padding": 0}, "axis": null},
    "y": {"field": "y", "type": "quantitative", "scale": {"domain": [135.95, 169.916], "nice": false, "zero": false, "padding": 0}, "axis": null},
    "text": {"field": "t"}
   }
  },
  {
   "data": {"name": "notes"},
   "mark": {"type": "text", "font": "Noto Sans CJK JP", "fontSize": 16, "fontWeight": "bold", "align": "left", "baseline": "middle", "color": "black"},
   "encoding": {
    "x": {"field": "x", "type": "quantitative", "scale": {"domain": [-16.218, 164.823], "nice": false, "zero": false, "padding": 0}, "axis": null},
    "y": {"field": "y", "type": "quantitative", "scale": {"domain": [135.95, 169.916], "nice": false, "zero": false, "padding": 0}, "axis": null},
    "text": {"field": "t"}
   }
  },
  {
   "data": {"name": "tag"},
   "mark": {"type": "rect", "fill": "black"},
   "encoding": {
    "x": {"field": "x", "type": "quantitative", "scale": {"domain": [-16.218, 164.823], "nice": false, "zero": false, "padding": 0}, "axis": null},
    "y": {"field": "y", "type": "quantitative", "scale": {"domain": [135.95, 169.916], "nice": false, "zero": false, "padding": 0}, "axis": null},
    "x2": {"field": "x2"}, "y2": {"field": "y2"}
   }
  },
  {
   "data": {"name": "tag"},
   "mark": {"type": "text", "font": "DejaVu Sans Mono", "fontSize": 15, "align": "left", "baseline": "middle", "color": "white"},
   "encoding": {
    "x": {"field": "tx", "type": "quantitative", "scale": {"domain": [-16.218, 164.823], "nice": false, "zero": false, "padding": 0}, "axis": null},
    "y": {"field": "ty", "type": "quantitative", "scale": {"domain": [135.95, 169.916], "nice": false, "zero": false, "padding": 0}, "axis": null},
    "text": {"field": "t"}
   }
  }
 ]
}
